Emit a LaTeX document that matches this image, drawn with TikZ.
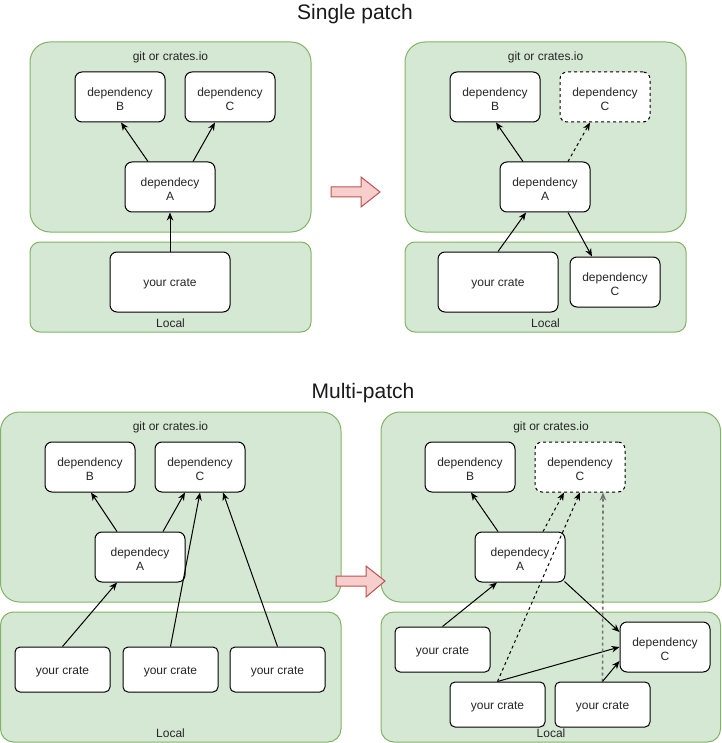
\documentclass[tikz,border=0pt]{standalone}
\usepackage{fontspec}
\setmainfont{Liberation Sans}
\usetikzlibrary{arrows.meta}
\definecolor{grfill}{HTML}{D5E8D4}
\definecolor{grline}{HTML}{82B366}
\definecolor{pkfill}{HTML}{F8CECC}
\definecolor{pkline}{HTML}{B85450}
\begin{document}
\begin{tikzpicture}[x=1pt,y=-1pt,
  lbl/.style={font=\fontsize{12}{14}\selectfont, text=black!85, inner sep=0pt},
  ttl/.style={font=\fontsize{21}{24}\selectfont, text=black!90, inner sep=0pt},
  dtxt/.style={align=center, inner sep=0pt, yshift=-2pt, font=\fontsize{12}{14}\selectfont, text=black!85},
  depshape/.style={draw=black, fill=white, line width=1pt, rounded corners=7pt, minimum width=90pt, minimum height=50pt, inner sep=0pt},
  depbox/.style={depshape, label={[dtxt]center:#1}},
  dashbox/.style={depbox=#1, dash pattern=on 3pt off 3pt},
  cratebig/.style={depbox=#1, minimum width=120pt, minimum height=60pt},
  cratesm/.style={depbox=#1, rounded corners=5pt, minimum width=95pt, minimum height=45pt},
  cont/.style={draw=grline, fill=grfill, line width=1pt},
  conn/.style={draw=black, line width=1pt, -{Stealth[length=8pt,width=6.5pt,inset=2.5pt]}},
  dconn/.style={conn, dash pattern=on 3pt off 3pt},
  bigarrow/.style={draw=pkline, fill=pkfill, line width=1pt, line join=miter}
]
\useasboundingbox (0,0) rectangle (721,743);

% ---------- Single patch ----------
\node[ttl] (t1) at (355,14) {Single patch};

% left
\draw[cont, rounded corners=20pt] (30,42) rectangle (311,232);
\draw[cont, rounded corners=10pt] (30,242) rectangle (311,332);
\node[lbl] (g1) at (170.5,57) {git or crates.io};
\node[lbl] (l1) at (170.5,323) {Local};
\node[depbox={dependency\\B}] (B1) at (120,97) {};
\node[depbox={dependency\\C}] (C1) at (230,97) {};
\node[depbox={dependecy\\A}] (A1) at (170,187) {};
\node[cratebig={your crate}] (Y1) at (170,282) {};
\draw[conn] ([xshift=-22pt]A1.north) -- ([xshift=1pt]B1.south);
\draw[conn] ([xshift=23pt]A1.north) -- ([xshift=-15pt]C1.south);
\draw[conn] (Y1.north) -- (A1.south);

% arrow
\draw[bigarrow] (331,187) -- (361,187) -- (361,177) -- (380,192) -- (361,207) -- (361,197) -- (331,197) -- cycle;

% right
\draw[cont, rounded corners=20pt] (405,42) rectangle (686,232);
\draw[cont, rounded corners=10pt] (405,242) rectangle (686,332);
\node[lbl] (g2) at (545.5,57) {git or crates.io};
\node[lbl] (l2) at (545.5,323) {Local};
\node[depbox={dependency\\B}] (B2) at (495,97) {};
\node[dashbox={dependency\\C}] (C2) at (605,97) {};
\node[depbox={dependency\\A}] (A2) at (545,187) {};
\node[cratebig={your crate}] (Y2) at (498,282) {};
\node[depbox={dependency\\C}] (LC2) at (615,282) {};
\draw[conn] ([xshift=-22pt]A2.north) -- ([xshift=1pt]B2.south);
\draw[dconn] ([xshift=23pt]A2.north) -- ([xshift=-15pt]C2.south);
\draw[conn] (Y2.north) -- ([xshift=-19pt]A2.south);
\draw[conn] ([xshift=23pt]A2.south) -- ([xshift=-23pt]LC2.north);

% ---------- Multi-patch ----------
\node[ttl] (t2) at (363,393) {Multi-patch};

% left
\draw[cont, rounded corners=19pt] (0.5,412) rectangle (341,602);
\draw[cont, rounded corners=13pt] (0.5,612) rectangle (341,742);
\node[lbl] (g3) at (170.5,427) {git or crates.io};
\node[lbl] (l3) at (170.5,733) {Local};
\node[depbox={dependency\\B}] (B3) at (90,467) {};
\node[depbox={dependency\\C}] (C3) at (200,467) {};
\node[depbox={dependecy\\A}] (A3) at (140,557) {};
\node[cratesm={your crate}] (Y3a) at (62.5,669.5) {};
\node[cratesm={your crate}] (Y3b) at (170.5,669.5) {};
\node[cratesm={your crate}] (Y3c) at (277.5,669.5) {};
\draw[conn] ([xshift=-23pt]A3.north) -- ([xshift=1pt]B3.south);
\draw[conn] ([xshift=23pt]A3.north) -- ([xshift=-15pt]C3.south);
\draw[conn] (Y3a.north) -- ([xshift=-23pt]A3.south);
\draw[conn] (Y3b.north) -- (C3.south);
\draw[conn] (Y3c.north) -- ([xshift=23pt]C3.south);

% right
\draw[cont, rounded corners=19pt] (381,412) rectangle (720.5,602);
\draw[cont, rounded corners=13pt] (381,612) rectangle (720.5,742);
\node[lbl] (g4) at (551,427) {git or crates.io};
\node[depbox={dependency\\B}] (B4) at (470,467) {};
\node[dashbox={dependency\\C}] (C4) at (580,467) {};
\node[depbox={dependecy\\A}] (A4) at (520,557) {};
\node[cratesm={your crate}] (Y4a) at (442.5,649.5) {};
\node[depbox={dependency\\C}] (LC4) at (665,647) {};
\node[cratesm={your crate}] (Y4b) at (497.5,704.5) {};
\node[cratesm={your crate}] (Y4c) at (602.5,704.5) {};
\node[lbl] (l4) at (551,733) {Local};
\draw[conn] ([xshift=-22pt]A4.north) -- ([xshift=1pt]B4.south);
\draw[dconn] ([xshift=23pt]A4.north) -- ([xshift=-16pt]C4.south);
\draw[conn] (Y4a.north) -- ([xshift=-23pt]A4.south);
\draw[conn] ([xshift=-1pt,yshift=1pt]A4.south east) -- ([yshift=15pt]LC4.west);
\draw[dconn] (Y4b.north) -- (C4.south);
\draw[conn] (Y4b.north) -- (LC4.west);
\draw[dconn, draw=black!55, line width=1.6pt] (Y4c.north) -- ([xshift=23pt]C4.south);
\draw[conn] (Y4c.north) -- ([yshift=-14pt]LC4.west);

% arrow
\draw[bigarrow] (336,576) -- (366,576) -- (366,566) -- (385,581) -- (366,597) -- (366,586) -- (336,586) -- cycle;
\end{tikzpicture}
\end{document}
